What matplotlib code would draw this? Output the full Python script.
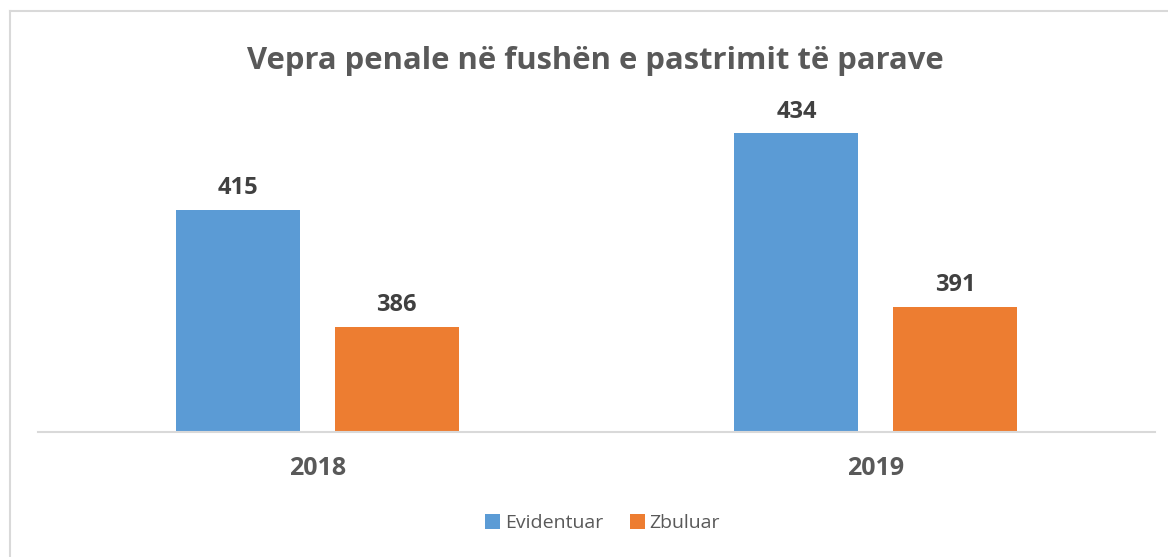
import numpy as np
import matplotlib.pyplot as plt
from matplotlib.lines import Line2D

years = ['2018', '2019']
evidentuar = [415, 434]
zbuluar = [386, 391]
series_names = ['Evidentuar', 'Zbuluar']
colors = ['#5B9BD5', '#ED7D31']

plt.rcParams['font.family'] = ['Open Sans', 'DejaVu Sans']

fig = plt.figure(figsize=(11.68, 5.57), dpi=100)
ax = fig.add_axes([0.0325, 0.2244, 0.9564, 0.652])

x = np.arange(len(years))
w = 0.222
off = 0.142
bars = []
for vals, sign, name, c in zip([evidentuar, zbuluar], [-1, 1], series_names, colors):
    b = ax.bar(x + sign * off, vals, w, color=c, label=name, bottom=0)
    bars.append(b)
    for xi, v in zip(x + sign * off, vals):
        ax.annotate(str(v), (xi, v), xytext=(0, 7), textcoords='offset points',
                    ha='center', va='bottom', fontsize=17, fontweight='bold',
                    color='#404040')

ax.set_xlim(-0.5, 1.5)
ax.set_ylim(360, 450)
ax.set_yticks([])
ax.set_xticks(x)
ax.set_xticklabels(years, fontsize=18, fontweight='bold', color='#595959')
ax.tick_params(axis='x', length=0, pad=17)
for s in ['top', 'right', 'left']:
    ax.spines[s].set_visible(False)
ax.spines['bottom'].set_color('#D9D9D9')
ax.spines['bottom'].set_linewidth(1.5)

fig.text(0.510, 0.891, 'Vepra penale në fushën e pastrimit të parave', ha='center',
         va='center', fontsize=22.3, fontweight='bold', color='#595959')

leg = fig.legend(handles=bars, labels=series_names, loc='center',
                 bbox_to_anchor=(0.516, 0.061), ncol=2, frameon=False,
                 fontsize=14, handlelength=0.77, handleheight=0.77,
                 handletextpad=0.25, columnspacing=1.35)
for t in leg.get_texts():
    t.set_color('#595959')

# chart border (top and left visible in the reference)
fig.add_artist(Line2D([10 / 1168, 1], [1 - 11 / 557, 1 - 11 / 557],
                      color='#D9D9D9', lw=1.5, transform=fig.transFigure))
fig.add_artist(Line2D([10 / 1168, 10 / 1168], [0, 1 - 11 / 557],
                      color='#D9D9D9', lw=1.5, transform=fig.transFigure))

fig.savefig('out.png', dpi=100)
